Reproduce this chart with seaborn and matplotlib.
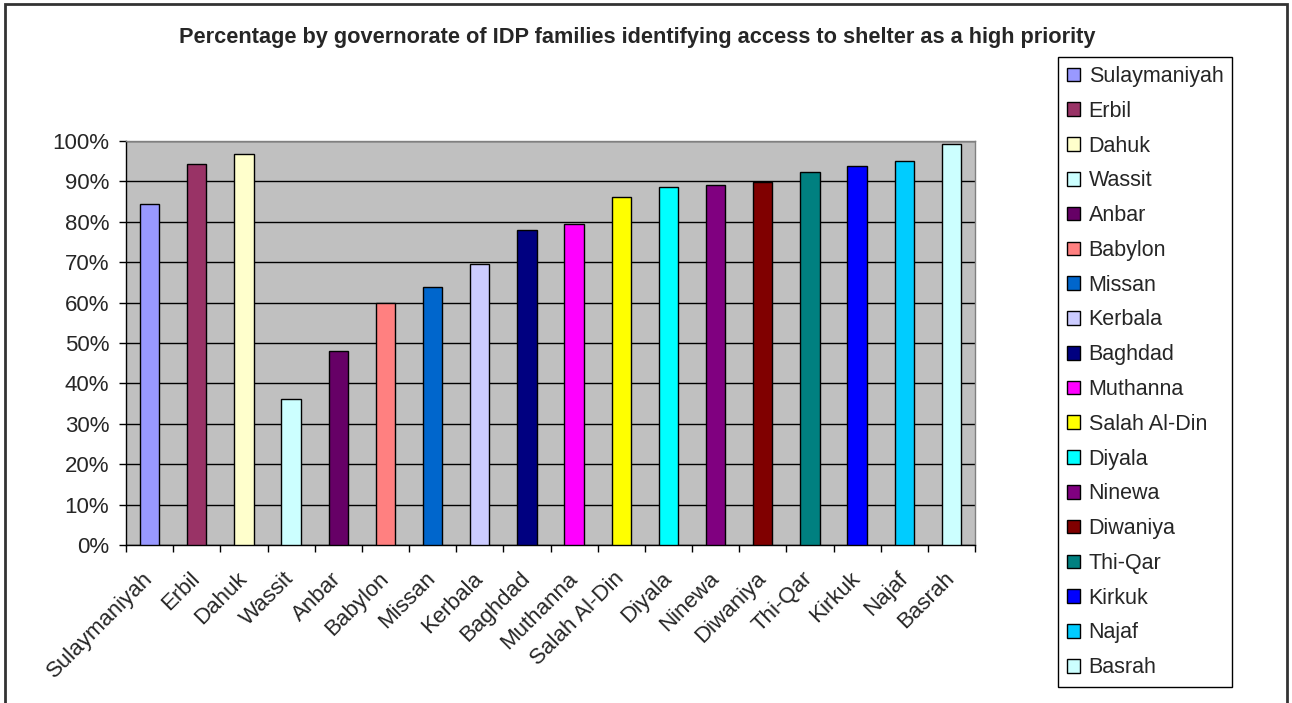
import numpy as np
import pandas as pd
import matplotlib
matplotlib.use("Agg")
import matplotlib.pyplot as plt
import matplotlib.transforms as mtransforms
from matplotlib.patches import Rectangle
from matplotlib.ticker import PercentFormatter
import seaborn as sns

# Governorates in chart order and share of IDP families naming shelter as a high priority (%)
governorates = ["Sulaymaniyah", "Erbil", "Dahuk", "Wassit", "Anbar", "Babylon",
                "Missan", "Kerbala", "Baghdad", "Muthanna", "Salah Al-Din", "Diyala",
                "Ninewa", "Diwaniya", "Thi-Qar", "Kirkuk", "Najaf", "Basrah"]
shelter_pct = [84.5, 94.3, 96.8, 36.2, 47.9, 60.0,
               63.9, 69.6, 77.9, 79.4, 86.1, 88.7,
               89.0, 89.8, 92.3, 93.8, 95.0, 99.3]
bar_colors = ["#9999FF", "#993366", "#FFFFCC", "#CCFFFF", "#660066", "#FF8080",
              "#0066CC", "#CCCCFF", "#000080", "#FF00FF", "#FFFF00", "#00FFFF",
              "#800080", "#800000", "#008080", "#0000FF", "#00CCFF", "#CCFFFF"]
y_ticks = [0, 10, 20, 30, 40, 50, 60, 70, 80, 90, 100]
title = "Percentage by governorate of IDP families identifying access to shelter as a high priority"

df = pd.DataFrame({"governorate": governorates, "pct": shelter_pct})

sns.set_theme(style="white")
plt.rcParams["font.family"] = ["Liberation Sans", "DejaVu Sans"]

W, H = 1292, 703
fig = plt.figure(figsize=(W / 100, H / 100), dpi=100)
fig.patch.set_facecolor("white")

# plot area in pixel coordinates
left, right, top, bottom = 126, 975, 141, 545
ax = fig.add_axes([left / W, 1 - bottom / H, (right - left) / W, (bottom - top) / H])
ax.set_facecolor("#C0C0C0")

sns.barplot(data=df, x="governorate", y="pct", hue="governorate",
            palette=bar_colors, hue_order=governorates, dodge=False,
            saturation=1, width=0.41, edgecolor="black", linewidth=1.0,
            legend=True, ax=ax, zorder=3)

ax.set_xlim(-0.5, len(governorates) - 0.5)
ax.set_ylim(0, 100)
ax.set_yticks(y_ticks)
ax.yaxis.set_major_formatter(PercentFormatter(100, decimals=0))
ax.yaxis.grid(True, color="black", linewidth=1.0, zorder=1)
ax.set_axisbelow(True)
ax.set_xlabel("")
ax.set_ylabel("")

# category labels at bar centres, tick marks between categories
ax.set_xticks(range(len(governorates)))
ax.set_xticklabels(governorates, rotation=45, ha="right", va="center",
                   rotation_mode="anchor", fontsize=16)
shift = mtransforms.ScaledTranslation(-0.12, 0.0, fig.dpi_scale_trans)
for lbl in ax.get_xticklabels():
    lbl.set_transform(lbl.get_transform() + shift)
ax.set_xticks(np.arange(-0.5, len(governorates)), minor=True)
ax.tick_params(axis="x", which="major", length=0, pad=22)
ax.tick_params(axis="x", which="minor", length=5, width=1, color="black",
               direction="out", bottom=True)
ax.tick_params(axis="y", length=5, width=1, color="black", direction="out",
               left=True, pad=7, labelsize=16)

for side in ("left", "bottom"):
    ax.spines[side].set_color("black")
    ax.spines[side].set_linewidth(1.0)
for side in ("top", "right"):
    ax.spines[side].set_color("#808080")
    ax.spines[side].set_linewidth(1.0)

# legend box on the right
handles, labels = ax.get_legend_handles_labels()
ax.get_legend().remove()
for h in handles:
    h.set_edgecolor("black")
    h.set_linewidth(1.0)
leg = fig.legend(handles, labels, loc="upper left",
                 bbox_to_anchor=(1058 / W, 1 - 57 / H),
                 fontsize=15.5, frameon=True, fancybox=False, shadow=False,
                 edgecolor="black", framealpha=1, labelspacing=0.64,
                 handlelength=0.6, handleheight=0.6, handletextpad=0.4,
                 borderpad=0.42, borderaxespad=0)
leg.get_frame().set_linewidth(1.0)

fig.text(637 / W, 1 - 38 / H, title, ha="center", va="center",
         fontsize=15.7, fontweight="bold")

# outer chart border
fig.patches.append(Rectangle((5 / W, -0.05), (1287 - 5) / W, 1.05 - 4 / H,
                             transform=fig.transFigure, fill=False,
                             edgecolor="#333333", linewidth=2))

fig.savefig("out.png", dpi=100, facecolor="white")
